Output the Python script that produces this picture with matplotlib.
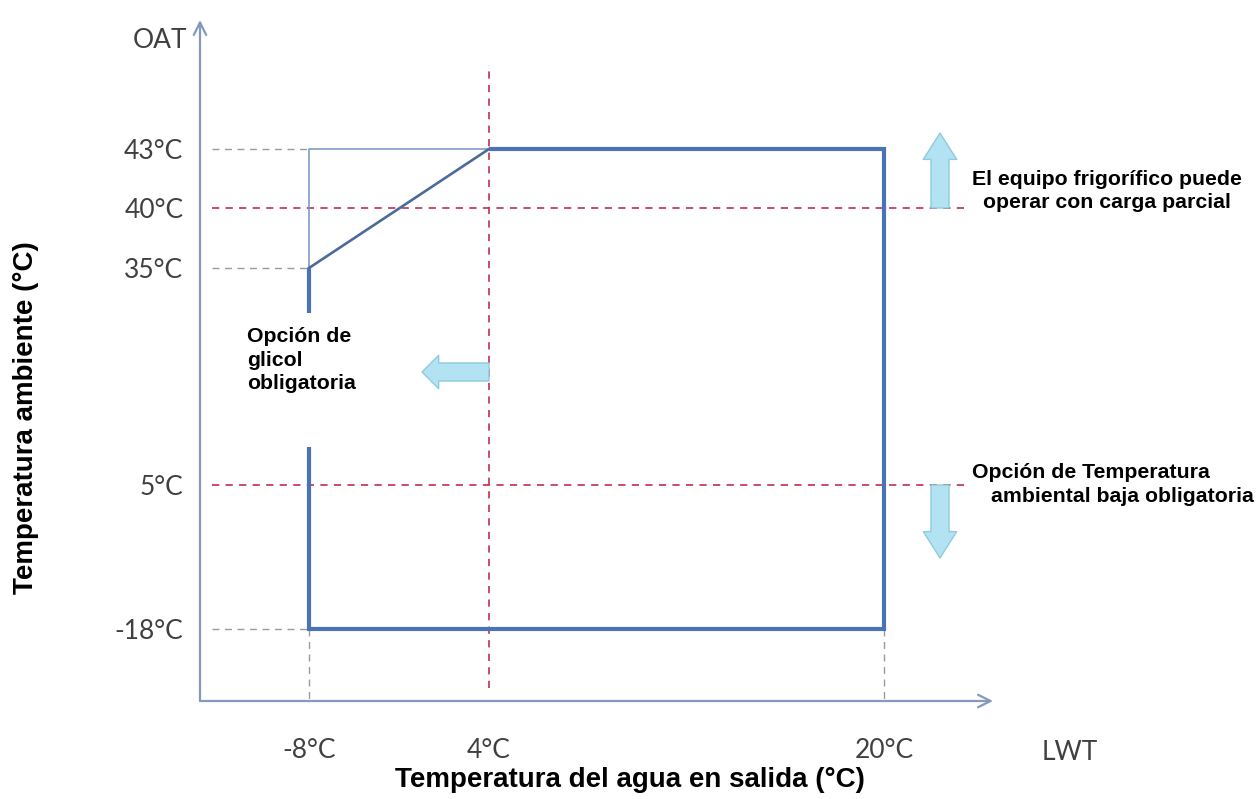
import numpy as np
import matplotlib
matplotlib.use("Agg")
import matplotlib.pyplot as plt
from matplotlib.patches import FancyArrowPatch, Rectangle, ArrowStyle

# Operating envelope: leaving water temperature (LWT) vs outdoor air (OAT), in °C
lwt_ticks = [-8, 4, 20]
oat_ticks = [-18, 5, 35, 40, 43]
lwt_tick_labels = ["-8°C", "4°C", "20°C"]
oat_tick_labels = ["-18°C", "5°C", "35°C", "40°C", "43°C"]

envelope_lwt = [4, 20, 20, -8, -8]
envelope_oat = [43, 43, -18, -18, 35]
slope_lwt = [-8, 4]
slope_oat = [35, 43]
limit_lwt = [-8, -8, 4]
limit_oat = [35, 43, 43]

glycol_lwt = 4        # below this LWT the glycol option is required
part_load_oat = 40    # above this OAT the unit runs at part load
low_amb_oat = 5       # below this OAT the low-ambient option is required

# the diagram is schematic: tick values sit at hand-picked pixel offsets
lwt_offsets = [109, 289, 684]
oat_offsets = [72, 216, 433, 493, 552]
AX_W, AX_H = 793, 681

FIG_W, FIG_H = 1258, 799
TICK_FONT = "Lato"
TICK_COLOR = "#404040"
BLUE = "#4a73b5"
RED = "#c0405f"
GREY = "#9a9a9a"
ARROW_FC = "#b3e3f3"
ARROW_EC = "#8ccbe0"


def piecewise(src, dst):
    src = np.asarray(src, float)
    dst = np.asarray(dst, float)
    lo = (dst[1] - dst[0]) / (src[1] - src[0])
    hi = (dst[-1] - dst[-2]) / (src[-1] - src[-2])

    def f(v):
        v = np.asarray(v, float)
        out = np.interp(v, src, dst)
        out = np.where(v < src[0], dst[0] + (v - src[0]) * lo, out)
        out = np.where(v > src[-1], dst[-1] + (v - src[-1]) * hi, out)
        return out

    return f


x_fwd, x_inv = piecewise(lwt_ticks, lwt_offsets), piecewise(lwt_offsets, lwt_ticks)
y_fwd, y_inv = piecewise(oat_ticks, oat_offsets), piecewise(oat_offsets, oat_ticks)


def xd(px):
    return float(x_inv(px))


def yd(px):
    return float(y_inv(px))


fig = plt.figure(figsize=(FIG_W / 100, FIG_H / 100), dpi=100)
ax = fig.add_axes([200 / FIG_W, 98 / FIG_H, AX_W / FIG_W, AX_H / FIG_H])
ax.set_xscale("function", functions=(x_fwd, x_inv))
ax.set_yscale("function", functions=(y_fwd, y_inv))
ax.set_xlim(xd(0), xd(AX_W))
ax.set_ylim(yd(0), yd(AX_H))
for side in ax.spines.values():
    side.set_visible(False)

ax.set_xticks(lwt_ticks, lwt_tick_labels)
ax.set_yticks(oat_ticks, oat_tick_labels)
ax.tick_params(axis="both", length=0, labelsize=19, labelcolor=TICK_COLOR)
ax.tick_params(axis="x", pad=27)
ax.tick_params(axis="y", pad=12)
for lab in ax.get_xticklabels() + ax.get_yticklabels():
    lab.set_fontfamily(TICK_FONT)
ax.minorticks_off()

# axis arrows
axis_kw = dict(arrowstyle="->,head_length=0.9,head_width=0.45", color="#8399bd", lw=1.6,
               shrinkA=0, shrinkB=0)
ax.annotate("", xy=(1, 0), xytext=(0, 0), xycoords="axes fraction", arrowprops=axis_kw)
ax.annotate("", xy=(0, 1), xytext=(0, 0), xycoords="axes fraction", arrowprops=axis_kw)

# grey guides from the axes to the envelope corners
guide_kw = dict(color=GREY, lw=1, ls=(0, (5, 4)), zorder=1)
x_start = xd(12)
for level in [43, 35, -18]:
    ax.plot([x_start, lwt_ticks[0]], [level, level], **guide_kw)
for pos in [lwt_ticks[0], lwt_ticks[-1]]:
    ax.plot([pos, pos], [oat_ticks[0], yd(0)], **guide_kw)

# red option limits
red_kw = dict(color=RED, lw=1.3, ls=(0, (4, 3.5)), zorder=2)
for level in [part_load_oat, low_amb_oat]:
    ax.plot([x_start, xd(765)], [level, level], **red_kw)
ax.plot([glycol_lwt, glycol_lwt], [yd(13), yd(636)], **red_kw)

# envelope
ax.plot(limit_lwt, limit_oat, color="#7592c2", lw=1.1, zorder=3)
ax.plot(slope_lwt, slope_oat, color="#4a6b9c", lw=1.9, zorder=3)
ax.plot(envelope_lwt, envelope_oat, color=BLUE, lw=3.0, zorder=3,
        solid_joinstyle="miter", solid_capstyle="butt")

# white panel for the glycol note
ax.add_patch(Rectangle((27 / AX_W, 254 / AX_H), 195 / AX_W, 134 / AX_H,
                       transform=ax.transAxes, fc="white", ec="none", zorder=4))


def block_arrow(start, end, head_length, head_width=24, tail_width=13):
    style = ArrowStyle.Simple(head_length=head_length, head_width=head_width,
                              tail_width=tail_width)
    ax.add_patch(FancyArrowPatch(start, end, arrowstyle=style, mutation_scale=1,
                                 fc=ARROW_FC, ec=ARROW_EC, lw=1.0, shrinkA=0,
                                 shrinkB=0, zorder=6))


arrow_x = xd(740)
block_arrow((arrow_x, part_load_oat), (arrow_x, yd(568)), 19)
block_arrow((arrow_x, low_amb_oat), (arrow_x, yd(143)), 19)
block_arrow((glycol_lwt, yd(329)), (xd(222), yd(329)), 12)


def ftext(px, py, s, **kw):
    fig.text(px / FIG_W, 1 - py / FIG_H, s, **kw)


note_kw = dict(fontfamily="Liberation Sans", fontweight="bold", fontsize=15.3, color="black")
ftext(1107, 191, "El equipo frigorífico puede\noperar con carga parcial",
      ha="center", va="center", multialignment="center", linespacing=1.3, **note_kw)
ftext(972, 472, "Opción de Temperatura", ha="left", va="center", **note_kw)
ftext(991, 497, "ambiental baja obligatoria", ha="left", va="center", **note_kw)
ftext(247, 327, "Opción de\nglicol\nobligatoria", ha="left", va="top",
      linespacing=1.3, zorder=7, **note_kw)

ftext(160, 40, "OAT", ha="center", va="center", fontsize=19, fontfamily=TICK_FONT,
      color=TICK_COLOR)
ftext(1070, 753, "LWT", ha="center", va="center", fontsize=19, fontfamily=TICK_FONT,
      color=TICK_COLOR)

label_kw = dict(fontfamily="Liberation Sans", fontweight="bold", fontsize=20, color="black")
ftext(26, 418, "Temperatura ambiente (°C)", ha="center", va="center", rotation=90, **label_kw)
ftext(630, 780, "Temperatura del agua en salida (°C)", ha="center", va="center", **label_kw)

fig.savefig("out.png", dpi=100, facecolor="white")
